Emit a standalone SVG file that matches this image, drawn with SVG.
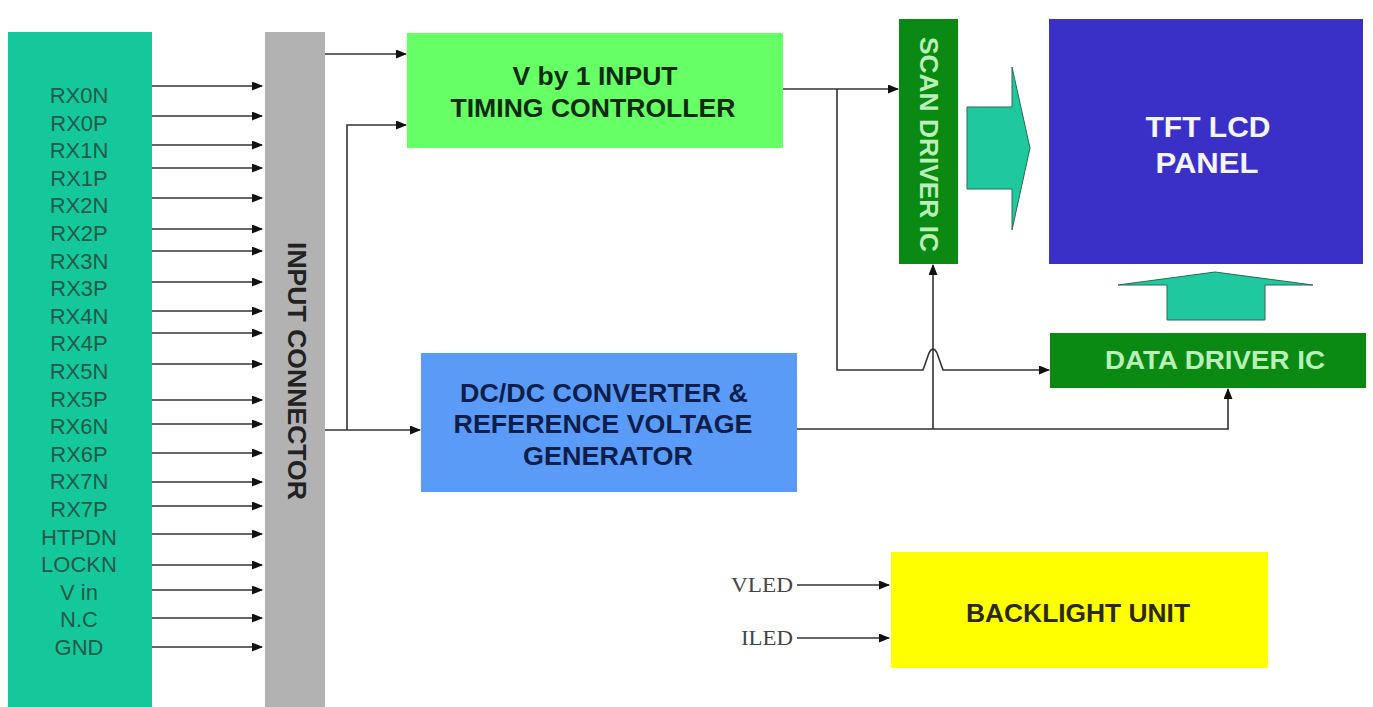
<svg xmlns="http://www.w3.org/2000/svg" width="1373" height="707" viewBox="0 0 1373 707">
<defs>
<marker id="ah" markerUnits="userSpaceOnUse" markerWidth="11" markerHeight="9" refX="10" refY="4.5" orient="auto">
<path d="M0,0 L11,4.5 L0,9 z" fill="#111"/>
</marker>
<style>
.ln{fill:none;stroke:#333;stroke-width:1.6}
.pin{font-family:"Liberation Sans",Arial,sans-serif;font-size:22px;fill:#215a46;text-anchor:middle}
.b{font-family:"Liberation Sans",Arial,sans-serif;font-weight:bold;text-anchor:middle}
.ser{font-family:"Liberation Serif","Times New Roman",serif;font-size:20px;fill:#444}
</style>
</defs>
<rect width="1373" height="707" fill="#fff"/>

<g id="pins-block">
<rect x="8" y="32" width="144" height="675" fill="#14c89c"/>
<text class="pin" x="79" y="103">RX0N</text>
<text class="pin" x="79" y="130.6">RX0P</text>
<text class="pin" x="79" y="158.2">RX1N</text>
<text class="pin" x="79" y="185.8">RX1P</text>
<text class="pin" x="79" y="213.4">RX2N</text>
<text class="pin" x="79" y="241">RX2P</text>
<text class="pin" x="79" y="268.6">RX3N</text>
<text class="pin" x="79" y="296.2">RX3P</text>
<text class="pin" x="79" y="323.8">RX4N</text>
<text class="pin" x="79" y="351.4">RX4P</text>
<text class="pin" x="79" y="379">RX5N</text>
<text class="pin" x="79" y="406.6">RX5P</text>
<text class="pin" x="79" y="434.2">RX6N</text>
<text class="pin" x="79" y="461.8">RX6P</text>
<text class="pin" x="79" y="489.4">RX7N</text>
<text class="pin" x="79" y="517">RX7P</text>
<text class="pin" x="79" y="544.6">HTPDN</text>
<text class="pin" x="79" y="572.2">LOCKN</text>
<text class="pin" x="79" y="599.8">V in</text>
<text class="pin" x="79" y="627.4">N.C</text>
<text class="pin" x="79" y="655">GND</text>
</g>

<g id="input-connector">
<rect x="265" y="32" width="60" height="675" fill="#b2b2b2"/>
<text class="b" transform="translate(288,371) rotate(90)" font-size="26" fill="#222" textLength="258" lengthAdjust="spacingAndGlyphs">INPUT CONNECTOR</text>
</g>

<g id="timing-controller">
<rect x="407" y="33" width="376" height="115" fill="#66ff66"/>
<text class="b" x="595" y="85" font-size="25" fill="#102a10" textLength="165" lengthAdjust="spacingAndGlyphs">V by 1 INPUT</text>
<text class="b" x="593" y="117" font-size="25" fill="#102a10" textLength="285" lengthAdjust="spacingAndGlyphs">TIMING CONTROLLER</text>
</g>

<g id="dcdc">
<rect x="421" y="353" width="376" height="139" fill="#5b9bf8"/>
<text class="b" x="604" y="402" font-size="26" fill="#0e1e4a" textLength="288" lengthAdjust="spacingAndGlyphs">DC/DC CONVERTER &amp;</text>
<text class="b" x="603" y="433" font-size="26" fill="#0e1e4a" textLength="299" lengthAdjust="spacingAndGlyphs">REFERENCE VOLTAGE</text>
<text class="b" x="608" y="465" font-size="26" fill="#0e1e4a" textLength="170" lengthAdjust="spacingAndGlyphs">GENERATOR</text>
</g>

<g id="scan-driver">
<rect x="899" y="19" width="59" height="245" fill="#0a8a12"/>
<text class="b" transform="translate(920,144.5) rotate(90)" font-size="26" fill="#b8f0b8" textLength="215" lengthAdjust="spacingAndGlyphs">SCAN DRIVER IC</text>
</g>

<g id="tft-panel">
<rect x="1049" y="19" width="314" height="245" fill="#3a30c8"/>
<text class="b" x="1208" y="137" font-size="30" fill="#f4f4ff" textLength="125" lengthAdjust="spacingAndGlyphs">TFT LCD</text>
<text class="b" x="1207" y="173" font-size="30" fill="#f4f4ff" textLength="103" lengthAdjust="spacingAndGlyphs">PANEL</text>
</g>

<g id="data-driver">
<rect x="1050" y="333" width="316" height="55" fill="#0a8a12"/>
<text class="b" x="1215" y="369" font-size="26" fill="#b8f0b8" textLength="220" lengthAdjust="spacingAndGlyphs">DATA DRIVER IC</text>
</g>

<g id="backlight">
<rect x="891" y="552" width="377" height="116" fill="#ffff00"/>
<text class="b" x="1078" y="622" font-size="26" fill="#2a2a10" textLength="224" lengthAdjust="spacingAndGlyphs">BACKLIGHT UNIT</text>
</g>

<g id="scan-to-panel-arrow">
<polygon points="967,107 1012,107 1012,67 1030,148 1012,230 1012,189 967,189" fill="#20c8a0" stroke="#2a6a55" stroke-width="1"/>
</g>
<g id="data-to-panel-arrow">
<polygon points="1167,320 1167,285 1118,285 1215,272 1313,285 1265,285 1265,320" fill="#20c8a0" stroke="#2a6a55" stroke-width="1"/>
</g>

<g id="connectors">
<line class="ln" x1="152" y1="86" x2="262" y2="86" marker-end="url(#ah)"/>
<line class="ln" x1="152" y1="116" x2="262" y2="116" marker-end="url(#ah)"/>
<line class="ln" x1="152" y1="145" x2="262" y2="145" marker-end="url(#ah)"/>
<line class="ln" x1="152" y1="168" x2="262" y2="168" marker-end="url(#ah)"/>
<line class="ln" x1="152" y1="198" x2="262" y2="198" marker-end="url(#ah)"/>
<line class="ln" x1="152" y1="229" x2="262" y2="229" marker-end="url(#ah)"/>
<line class="ln" x1="152" y1="251" x2="262" y2="251" marker-end="url(#ah)"/>
<line class="ln" x1="152" y1="282" x2="262" y2="282" marker-end="url(#ah)"/>
<line class="ln" x1="152" y1="311" x2="262" y2="311" marker-end="url(#ah)"/>
<line class="ln" x1="152" y1="333" x2="262" y2="333" marker-end="url(#ah)"/>
<line class="ln" x1="152" y1="364" x2="262" y2="364" marker-end="url(#ah)"/>
<line class="ln" x1="152" y1="400" x2="262" y2="400" marker-end="url(#ah)"/>
<line class="ln" x1="152" y1="424" x2="262" y2="424" marker-end="url(#ah)"/>
<line class="ln" x1="152" y1="453" x2="262" y2="453" marker-end="url(#ah)"/>
<line class="ln" x1="152" y1="482" x2="262" y2="482" marker-end="url(#ah)"/>
<line class="ln" x1="152" y1="506" x2="262" y2="506" marker-end="url(#ah)"/>
<line class="ln" x1="152" y1="534" x2="262" y2="534" marker-end="url(#ah)"/>
<line class="ln" x1="152" y1="565" x2="262" y2="565" marker-end="url(#ah)"/>
<line class="ln" x1="152" y1="590" x2="262" y2="590" marker-end="url(#ah)"/>
<line class="ln" x1="152" y1="618" x2="262" y2="618" marker-end="url(#ah)"/>
<line class="ln" x1="152" y1="647" x2="262" y2="647" marker-end="url(#ah)"/>

<line class="ln" x1="325" y1="54" x2="406" y2="54" marker-end="url(#ah)"/>
<line class="ln" x1="325" y1="430" x2="420" y2="430" marker-end="url(#ah)"/>
<polyline class="ln" points="347,430 347,125 406,125" marker-end="url(#ah)"/>

<line class="ln" x1="783" y1="89" x2="898" y2="89" marker-end="url(#ah)"/>
<path class="ln" d="M837,89 L837,370 L923,370 L929,353 Q933,345 937,353 L943,370 L1049,370" marker-end="url(#ah)"/>

<polyline class="ln" points="797,429 1228,429 1228,389" marker-end="url(#ah)"/>
<polyline class="ln" points="933,429 933,265" marker-end="url(#ah)"/>

<text class="ser" x="731" y="592" textLength="62" lengthAdjust="spacingAndGlyphs">VLED</text>
<line class="ln" x1="797" y1="585" x2="889" y2="585" marker-end="url(#ah)"/>
<text class="ser" x="741" y="645" textLength="52" lengthAdjust="spacingAndGlyphs">ILED</text>
<line class="ln" x1="797" y1="638" x2="889" y2="638" marker-end="url(#ah)"/>
</g>
</svg>
